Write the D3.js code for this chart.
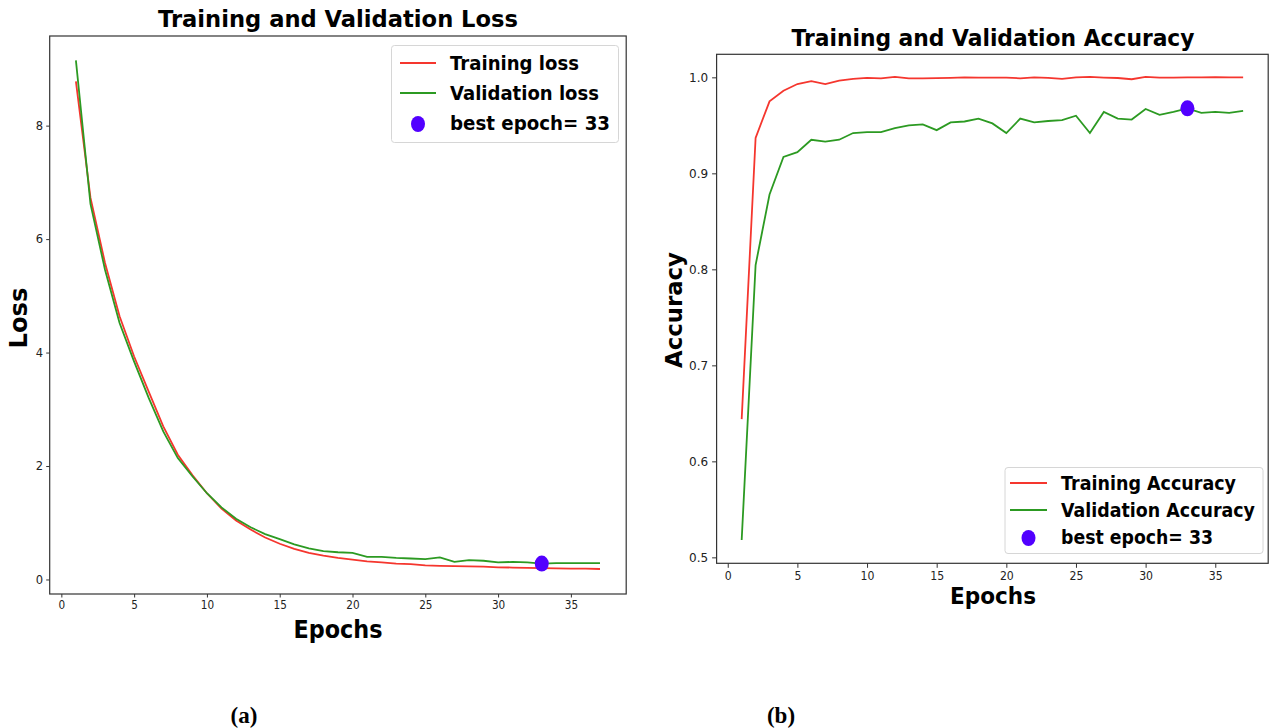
<!DOCTYPE html>
<html>
<head>
<meta charset="utf-8">
<script src="https://cdn.jsdelivr.net/npm/d3@7"></script>
<style>
    body { margin: 0; background: #fff; }
    svg text { font-family: "DejaVu Sans", sans-serif; }
</style>
</head>
<body>
<div id="chart"></div>
<script>
var width = 1273;
var height = 728;

// data
var epochs = [1, 2, 3, 4, 5, 6, 7, 8, 9, 10, 11, 12, 13, 14, 15, 16, 17, 18, 19, 20,
    21, 22, 23, 24, 25, 26, 27, 28, 29, 30, 31, 32, 33, 34, 35, 36, 37];

var trainLoss = [8.78, 6.73, 5.58, 4.64, 3.93, 3.31, 2.70, 2.20, 1.84, 1.52,
    1.25, 1.04, 0.88, 0.74, 0.63, 0.54, 0.47, 0.42, 0.38, 0.35,
    0.32, 0.30, 0.28, 0.27, 0.25, 0.24, 0.235, 0.23, 0.225, 0.215,
    0.21, 0.205, 0.20, 0.195, 0.19, 0.19, 0.185];

var valLoss = [9.15, 6.62, 5.46, 4.52, 3.84, 3.20, 2.61, 2.14, 1.82, 1.52,
    1.27, 1.07, 0.92, 0.80, 0.71, 0.62, 0.55, 0.50, 0.48, 0.47,
    0.40, 0.40, 0.38, 0.37, 0.36, 0.39, 0.31, 0.34, 0.33, 0.30,
    0.31, 0.30, 0.28, 0.29, 0.29, 0.29, 0.29];

var trainAcc = [0.644, 0.937, 0.975, 0.986, 0.993, 0.996, 0.993, 0.9965, 0.9985, 0.9995,
    0.999, 1.0005, 0.999, 0.999, 0.9992, 0.9995, 1.0, 0.9998, 0.9998, 0.9998,
    0.999, 1.0, 0.9995, 0.9985, 1.0, 1.0005, 0.9998, 0.9993, 0.998, 1.0005,
    0.9997, 0.9998, 1.0, 1.0, 1.0003, 1.0, 1.0];

var valAcc = [0.518, 0.8045, 0.878, 0.917, 0.922, 0.935, 0.933, 0.935, 0.942, 0.943,
    0.943, 0.947, 0.950, 0.951, 0.945, 0.953, 0.954, 0.957, 0.952, 0.942,
    0.957, 0.953, 0.9545, 0.9555, 0.960, 0.942, 0.964, 0.957, 0.956, 0.967,
    0.961, 0.964, 0.9677, 0.963, 0.964, 0.963, 0.965];

var bestEpoch = 33;

var lossTicksX = [0, 5, 10, 15, 20, 25, 30, 35];
var lossTicksY = [0, 2, 4, 6, 8];
var accTicksX = [0, 5, 10, 15, 20, 25, 30, 35];
var accTicksY = [0.5, 0.6, 0.7, 0.8, 0.9, 1.0];

var red = "#f5362e";
var green = "#2c9a22";
var dotColor = "#5200ff";
var squeeze = 0.91; // the source picture is a little narrower than its fonts

var svg = d3.select("#chart").append("svg")
    .attr("width", width)
    .attr("height", height);

// text drawn at a given height then squeezed to the width it has in the picture
function label(str, x, y, size, len, opts) {
    opts = opts || {};
    var t = svg.append("text")
        .attr("x", x).attr("y", y)
        .attr("font-size", size + "px")
        .attr("font-weight", opts.weight || "bold")
        .attr("text-anchor", opts.anchor || "middle")
        .attr("fill", "#000")
        .text(str);
    if (opts.family) t.style("font-family", opts.family);
    if (len) t.attr("textLength", len).attr("lengthAdjust", "spacingAndGlyphs");
    if (opts.rotate) t.attr("transform", "rotate(" + opts.rotate + "," + x + "," + y + ")");
    return t;
}

function drawPanel(cfg) {
    var x = d3.scaleLinear().domain(cfg.xDomain).range(cfg.xRange);
    var y = d3.scaleLinear().domain(cfg.yDomain).range(cfg.yRange);
    var g = svg.append("g");

    var line = d3.line()
        .x(function (d, i) { return x(epochs[i]); })
        .y(function (d) { return y(d); });

    g.append("path").datum(cfg.train)
        .attr("d", line).attr("fill", "none")
        .attr("stroke", red).attr("stroke-width", 1.8);
    g.append("path").datum(cfg.val)
        .attr("d", line).attr("fill", "none")
        .attr("stroke", green).attr("stroke-width", 1.8);

    var bi = epochs.indexOf(bestEpoch);
    g.append("ellipse")
        .attr("cx", x(bestEpoch)).attr("cy", y(cfg.val[bi]))
        .attr("rx", 7).attr("ry", 8).attr("fill", dotColor);

    // axes
    var xAxis = g.append("g")
        .attr("transform", "translate(0," + cfg.yRange[0] + ")")
        .call(d3.axisBottom(x).tickValues(cfg.xTicks).tickSizeOuter(0)
            .tickSize(cfg.tick).tickPadding(cfg.pad));
    var yAxis = g.append("g")
        .attr("transform", "translate(" + cfg.xRange[0] + ",0)")
        .call(d3.axisLeft(y).tickValues(cfg.yTicks).tickFormat(cfg.yFormat).tickSizeOuter(0)
            .tickSize(cfg.tick).tickPadding(cfg.pad));
    [xAxis, yAxis].forEach(function (a) {
        a.select(".domain").remove();
        a.selectAll(".tick line").attr("stroke", "#333");
        a.selectAll(".tick text")
            .attr("font-size", cfg.tickFont + "px")
            .attr("fill", "#222")
            .style("font-family", "DejaVu Sans");
    });
    xAxis.selectAll(".tick text").attr("transform", "scale(" + squeeze + ",1)");

    g.append("rect")
        .attr("x", cfg.xRange[0]).attr("y", cfg.yRange[1])
        .attr("width", cfg.xRange[1] - cfg.xRange[0])
        .attr("height", cfg.yRange[0] - cfg.yRange[1])
        .attr("fill", "none").attr("stroke", "#333").attr("stroke-width", 1.2);

    // legend
    var L = cfg.legend;
    g.append("rect")
        .attr("x", L.x).attr("y", L.y).attr("width", L.w).attr("height", L.h)
        .attr("rx", 3).attr("fill", "#fff").attr("fill-opacity", 0.8)
        .attr("stroke", "#d6d6d6").attr("stroke-width", 1);
    L.items.forEach(function (item, i) {
        var cy = L.rowY[i];
        if (item.type === "line") {
            g.append("line")
                .attr("x1", L.lineX[0]).attr("x2", L.lineX[1])
                .attr("y1", cy).attr("y2", cy)
                .attr("stroke", item.color).attr("stroke-width", 2);
        } else {
            g.append("ellipse")
                .attr("cx", (L.lineX[0] + L.lineX[1]) / 2).attr("cy", cy + 1)
                .attr("rx", 7).attr("ry", 8).attr("fill", dotColor);
        }
        label(item.text, L.textX, cy + L.size * 0.36, L.size, item.len, { anchor: "start" });
    });
}

drawPanel({
    xDomain: [-0.8, 38.8], xRange: [49.7, 626.2],
    yDomain: [-0.256, 9.58], yRange: [594, 36],
    train: trainLoss, val: valLoss,
    xTicks: lossTicksX, yTicks: lossTicksY, yFormat: d3.format("d"),
    tick: 3.5, pad: 3, tickFont: 11.5,
    legend: {
        x: 391.5, y: 45.5, w: 227, h: 97,
        lineX: [400, 436], textX: 450, size: 20,
        rowY: [63, 93, 123],
        items: [
            { type: "line", color: red, text: "Training loss", len: 129 },
            { type: "line", color: green, text: "Validation loss", len: 149 },
            { type: "dot", text: "best epoch= 33", len: 160 }
        ]
    }
});

drawPanel({
    xDomain: [-0.8, 38.8], xRange: [716.6, 1268.2],
    yDomain: [0.4938, 1.024], yRange: [563.3, 54.3],
    train: trainAcc, val: valAcc,
    xTicks: accTicksX, yTicks: accTicksY, yFormat: d3.format(".1f"),
    tick: 4.5, pad: 4, tickFont: 12,
    legend: {
        x: 1005, y: 467.5, w: 258, h: 86,
        lineX: [1010, 1047], textX: 1061, size: 19,
        rowY: [483, 510, 537],
        items: [
            { type: "line", color: red, text: "Training Accuracy", len: 175 },
            { type: "line", color: green, text: "Validation Accuracy", len: 194 },
            { type: "dot", text: "best epoch= 33", len: 152 }
        ]
    }
});

// titles and axis labels
label("Training and Validation Loss", 338, 27, 23, 360);
label("Training and Validation Accuracy", 993, 46, 23, 403);
label("Epochs", 338, 638, 24, 89);
label("Epochs", 993, 604, 23, 86);
label("Loss", 27, 318, 24, 61, { rotate: -90 });
label("Accuracy", 682, 310, 23, 116, { rotate: -90 });

// panel captions
label("(a)", 244, 723, 23, null, { family: "Liberation Serif" });
label("(b)", 781, 723, 23, null, { family: "Liberation Serif" });
</script>
</body>
</html>
